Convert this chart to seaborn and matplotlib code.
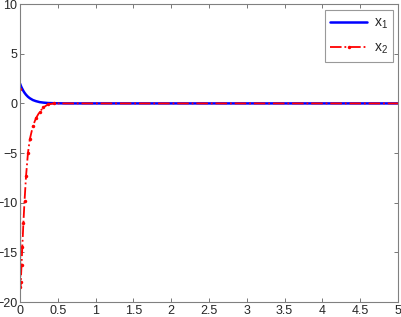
import numpy as np
import matplotlib
matplotlib.use("Agg")
import matplotlib.pyplot as plt
import seaborn as sns

# -------------------------------------------------
# data
# -------------------------------------------------
t = [0.0, 0.004, 0.01, 0.02, 0.03, 0.045, 0.06, 0.08, 0.105, 0.13, 0.17,
     0.21, 0.26, 0.31, 0.37, 0.45, 0.6, 0.8, 1.0, 1.5, 2.0, 2.5, 3.0,
     3.5, 4.0, 4.5, 5.0]
x1 = [2.0, 1.92, 1.8, 1.62, 1.47, 1.25, 1.07, 0.87, 0.67, 0.52, 0.34,
      0.23, 0.13, 0.08, 0.04, 0.02, 0.0, 0.0, 0.0, 0.0, 0.0, 0.0, 0.0,
      0.0, 0.0, 0.0, 0.0]
x2 = [1.5, -18.5, -18.0, -16.3, -14.5, -12.0, -9.8, -7.3, -5.0, -3.6, -2.3,
      -1.5, -0.85, -0.4, -0.1, 0.0, 0.0, 0.0, 0.0, 0.0, 0.0, 0.0, 0.0,
      0.0, 0.0, 0.0, 0.0]

xticks = [0, 0.5, 1, 1.5, 2, 2.5, 3, 3.5, 4, 4.5, 5]
xlabels = ["0", "0.5", "1", "1.5", "2", "2.5", "3", "3.5", "4", "4.5", "5"]
yticks = [-20, -15, -10, -5, 0, 5, 10]

# -------------------------------------------------
# style
# -------------------------------------------------
sns.set_style("ticks")
plt.rcParams["font.family"] = ["Liberation Sans", "DejaVu Sans"]
plt.rcParams["xtick.direction"] = "in"
plt.rcParams["ytick.direction"] = "in"

fig = plt.figure(figsize=(4.01, 3.17), dpi=100)
ax = fig.add_axes([0.0499, 0.0473, 0.9426, 0.9397])

sns.lineplot(x=t, y=x1, ax=ax, color="#0000ff", linewidth=1.8,
             label=r"$\mathregular{x_1}$")
sns.lineplot(x=t, y=x2, ax=ax, color="#ff0000", linewidth=1.3,
             linestyle="-.", marker=".", markersize=5, markeredgewidth=0,
             markevery=list(range(16)),
             label=r"$\mathregular{x_2}$")

ax.set_xlim(0, 5)
ax.set_ylim(-20, 10)
ax.set_xticks(xticks)
ax.set_xticklabels(xlabels)
ax.set_yticks(yticks)
ax.tick_params(labelsize=9, length=3, width=0.6, color="#606060",
               top=True, right=True, pad=2)
for s in ax.spines.values():
    s.set_color("#808080")
    s.set_linewidth(0.8)

leg = ax.legend(loc="upper right", fontsize=10, frameon=True, fancybox=False,
                handlelength=2.6, handletextpad=0.5, borderpad=0.4,
                labelspacing=0.7, borderaxespad=0,
                bbox_to_anchor=(0.987, 0.98))
leg.get_frame().set_edgecolor("#808080")
leg.get_frame().set_linewidth(0.8)

fig.savefig("out.png", dpi=100)
